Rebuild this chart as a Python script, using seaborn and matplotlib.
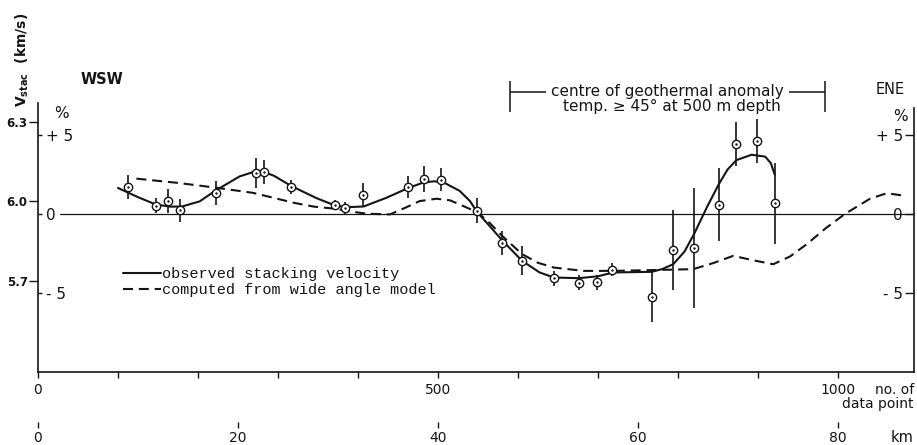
import matplotlib
matplotlib.use("Agg")
import matplotlib.pyplot as plt
from matplotlib.font_manager import FontProperties
from matplotlib.ticker import FixedLocator, NullFormatter
import seaborn as sns

sns.set_theme(style="white")
plt.rcParams['font.family'] = ['DejaVu Sans']

INK = "#151515"

# Observed stacking velocities: data point number, deviation (%) and error half-width (%)
obs_point = [112, 147, 162, 177, 222, 272, 282, 316, 371, 384, 406, 463, 482, 504,
             549, 580, 605, 645, 676, 699, 718, 767, 794, 820, 851, 873, 899, 921]
obs_dev = [1.69, 0.51, 0.80, 0.21, 1.31, 2.57, 2.62, 1.69, 0.57, 0.34, 1.18, 1.69, 2.19, 2.15,
           0.20, -1.82, -2.98, -4.09, -4.37, -4.33, -3.54, -5.25, -2.30, -2.18, 0.57, 4.40, 4.62, 0.65]
obs_err = [0.74, 0.47, 0.76, 0.71, 0.77, 0.95, 0.76, 0.47, 0.32, 0.42, 0.77, 0.72, 0.84, 0.74,
           0.79, 0.76, 0.92, 0.45, 0.47, 0.47, 0.40, 1.61, 2.52, 3.80, 2.32, 1.40, 1.39, 2.58]

# Smoothed observed stacking velocity curve
smooth_point = [100, 125, 147, 165, 180, 202, 222, 252, 268, 280, 295, 316, 348, 370, 384, 407,
                435, 463, 482, 495, 507, 527, 540, 549, 565, 580, 605, 627, 645, 676, 700, 719,
                767, 780, 794, 808, 820, 836, 851, 862, 873, 892, 909, 916, 921]
smooth_dev = [1.63, 1.05, 0.59, 0.45, 0.46, 0.78, 1.47, 2.36, 2.62, 2.68, 2.40, 1.77, 0.99, 0.55,
              0.41, 0.46, 1.00, 1.63, 1.98, 2.05, 1.98, 1.45, 0.80, 0.10, -0.80, -1.67, -2.97,
              -3.71, -4.03, -4.07, -3.95, -3.71, -3.67, -3.50, -3.19, -2.40, -1.29, 0.40, 1.87,
              2.80, 3.39, 3.73, 3.61, 3.20, 2.47]

# Stacking velocity computed from the wide angle model
model_point = [123, 175, 222, 269, 295, 319, 345, 371, 390, 411, 440, 460, 477, 498, 515, 527,
               549, 565, 580, 605, 625, 645, 682, 719, 767, 819, 845, 869, 895, 919, 940, 961,
               985, 1009, 1040, 1061, 1080]
model_dev = [2.22, 1.95, 1.65, 1.32, 1.00, 0.70, 0.45, 0.32, 0.15, 0.00, -0.04, 0.40, 0.80, 0.95,
             0.85, 0.59, 0.10, -0.60, -1.39, -2.55, -3.10, -3.40, -3.61, -3.61, -3.56, -3.50,
             -3.10, -2.66, -2.95, -3.19, -2.70, -1.92, -0.90, 0.00, 0.95, 1.30, 1.16]

# Axis scales
V_REF = 5.953            # km/s at 0 %
KM_PER_POINT = 0.08
velocity_ticks = [5.7, 6.0, 6.3]
velocity_labels = ["5.7", "6.0", "6.3"]
pct_ticks = [-5, 0, 5]
pct_labels_left = ["- 5", "0", "+ 5"]
pct_labels_right = ["- 5", "0", "+ 5"]
point_major = [0, 500, 1000]
point_minor = [100, 200, 300, 400, 600, 700, 800, 900]
km_ticks = [0, 20, 40, 60, 80]

anomaly_start, anomaly_end = 590, 984

fig = plt.figure(figsize=(9.17, 4.45), dpi=100)
ax = fig.add_axes([38 / 917, 73 / 445, 876 / 917, 269 / 445])
ax.set_xlim(0, 1095)
ax.set_ylim(-10, 7)

# reference line at 0 %
ax.axhline(0, xmin=0.025, xmax=1.0, color=INK, lw=0.9, zorder=1)

sns.lineplot(x=smooth_point, y=smooth_dev, ax=ax, color=INK, lw=1.5,
             sort=False, estimator=None, zorder=3)
line_obs = ax.lines[-1]
sns.lineplot(x=model_point, y=model_dev, ax=ax, color=INK, lw=1.5,
             sort=False, estimator=None, zorder=2, linestyle=(0, (4.8, 2.8)))
line_mod = ax.lines[-1]

ax.errorbar(obs_point, obs_dev, yerr=obs_err, fmt="none", ecolor=INK,
            elinewidth=1.2, capsize=0, zorder=4)
sns.scatterplot(x=obs_point, y=obs_dev, ax=ax, s=36, marker="o", facecolor="white",
                edgecolor=INK, linewidth=1.0, zorder=5)
sns.scatterplot(x=obs_point, y=obs_dev, ax=ax, s=3, marker="o", color=INK,
                linewidth=0, zorder=6)

# spines
ax.spines["top"].set_visible(False)
for side in ["left", "right", "bottom"]:
    ax.spines[side].set_color(INK)
    ax.spines[side].set_linewidth(1.2)
ax.spines["right"].set_bounds(-10, 6.7)

# bottom axis: number of data point
ax.xaxis.set_major_locator(FixedLocator(point_major))
ax.xaxis.set_minor_locator(FixedLocator(point_minor))
ax.xaxis.set_minor_formatter(NullFormatter())
ax.set_xticklabels([str(v) for v in point_major])
ax.tick_params(axis="x", which="both", direction="out", length=4.5, width=1.0,
               color=INK, labelsize=10, labelcolor=INK, pad=3.5, bottom=True)

# left inner percent scale
ax.set_yticks(pct_ticks)
ax.set_yticklabels(pct_labels_left)
ax.tick_params(axis="y", direction="in", length=3, width=1.0, color=INK,
               labelsize=11, labelcolor=INK, pad=-6, left=True)
for t in ax.get_yticklabels():
    t.set_horizontalalignment("left")

# left outer velocity scale
sec_v = ax.secondary_yaxis("left", functions=(lambda p: V_REF * (1 + p / 100.0),
                                              lambda v: (v / V_REF - 1) * 100.0))
sec_v.set_yticks(velocity_ticks)
sec_v.set_yticklabels(velocity_labels)
sec_v.tick_params(axis="y", direction="out", length=6.5, width=1.0, color=INK,
                  labelsize=8.5, labelcolor=INK, pad=1)
for t in sec_v.get_yticklabels():
    t.set_fontweight("bold")
for s in sec_v.spines.values():
    s.set_visible(False)

# right percent scale
sec_r = ax.secondary_yaxis("right")
sec_r.set_yticks(pct_ticks)
sec_r.set_yticklabels(pct_labels_right)
sec_r.tick_params(axis="y", direction="in", length=6.5, width=1.0, color=INK,
                  labelsize=11, labelcolor=INK, pad=-8)
for t in sec_r.get_yticklabels():
    t.set_horizontalalignment("right")
for s in sec_r.spines.values():
    s.set_visible(False)

# km scale below
sec_km = ax.secondary_xaxis(-0.185, functions=(lambda p: p * KM_PER_POINT,
                                               lambda k: k / KM_PER_POINT))
sec_km.set_xticks(km_ticks)
sec_km.set_xticklabels([str(v) for v in km_ticks])
sec_km.tick_params(axis="x", direction="out", length=4.5, width=1.0, color=INK,
                   labelsize=10, labelcolor=INK, pad=2)
for s in sec_km.spines.values():
    s.set_visible(False)

# geothermal anomaly bracket
ax.vlines([anomaly_start, anomaly_end], 6.4, 8.4, color=INK, lw=1.1, clip_on=False)
ax.hlines(7.72, anomaly_start, anomaly_end, color=INK, lw=1.1, clip_on=False)
mid = (anomaly_start + anomaly_end) / 2
ax.text(mid, 7.72, "centre of geothermal anomaly", ha="center", va="center",
        fontsize=11, color=INK, clip_on=False,
        bbox=dict(facecolor="white", edgecolor="none", pad=3.5))
ax.text(mid + 5, 6.77, "temp. \u2265 45\u00b0 at 500 m depth", ha="center", va="center",
        fontsize=11, color=INK, clip_on=False)

# legend
leg = ax.legend([line_obs, line_mod],
                ["observed stacking velocity", "computed from wide angle model"],
                loc="upper left", bbox_to_anchor=(0.097, 0.39), frameon=False,
                prop=FontProperties(family="Liberation Mono", size=11),
                handlelength=2.5, handletextpad=0.05, labelspacing=0.12,
                borderpad=0, borderaxespad=0)
for t in leg.get_texts():
    t.set_color(INK)

# labels around the frame
fig.text(22 / 917, 1 - 60 / 445, r"$\mathbf{V_{stac}}$  (km/s)", rotation=90,
         ha="center", va="center", fontsize=10, fontweight="bold", color=INK)
fig.text(102 / 917, 1 - 80 / 445, "WSW", ha="center", va="center",
         fontsize=10.5, fontweight="bold", color=INK)
fig.text(890 / 917, 1 - 89 / 445, "ENE", ha="center", va="center",
         fontsize=10.5, color=INK)
fig.text(61 / 917, 1 - 113 / 445, "%", ha="center", va="center", fontsize=11, color=INK)
fig.text(900 / 917, 1 - 117 / 445, "%", ha="center", va="center", fontsize=11, color=INK)
fig.text(914 / 917, 1 - 390 / 445, "no. of", ha="right", va="center",
         fontsize=10, color=INK)
fig.text(914 / 917, 1 - 404 / 445, "data point", ha="right", va="center",
         fontsize=10, color=INK)
fig.text(902 / 917, 1 - 437 / 445, "km", ha="center", va="center", fontsize=10.5, color=INK)

fig.savefig("out.png", dpi=100, facecolor="white")
